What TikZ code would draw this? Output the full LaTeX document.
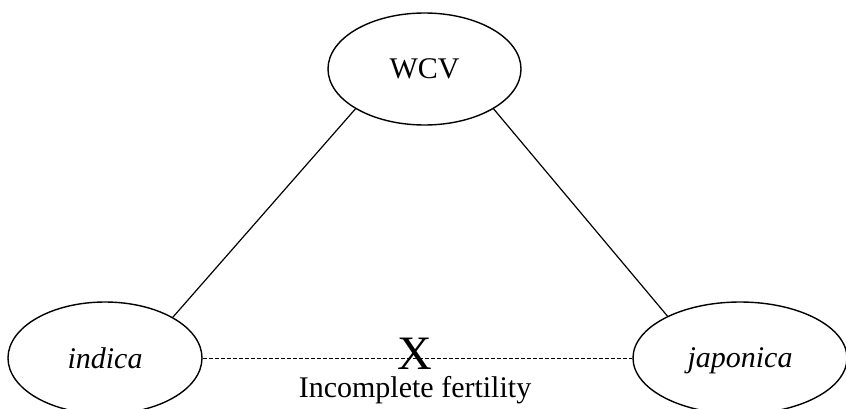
\documentclass[tikz,border=0pt]{standalone}
\usepackage{fontspec}
\setmainfont{Liberation Serif}
\usepackage{tikz}
\usetikzlibrary{shapes.geometric}

\begin{document}
\begin{tikzpicture}[x=1pt,y=1pt,font=\fontsize{30}{36}\selectfont,
  grp/.style={draw,ellipse,line width=1.4pt,inner sep=0pt,minimum height=112pt,text depth=0pt}]
\useasboundingbox (0,0) rectangle (846,408);
\node[grp,minimum width=193pt] (wcv) at (424.5,339) {WCV};
\node[grp,minimum width=194pt] (ind) at (105,50) {\textit{indica}};
\node[grp,minimum width=214pt] (jap) at (740,50) {\textit{japonica}};
\draw[line width=1.2pt] (wcv.210) -- (ind.31);
\draw[line width=1.2pt] (wcv.330) -- (jap.150);
\draw[dash pattern=on 4pt off 2pt,line width=1pt] (ind.east) --
  node[pos=0.493,yshift=4pt,inner sep=0pt,font=\fontsize{48}{56}\selectfont] (cross) {X} (jap.west);
\node[anchor=base] (fert) at (415,11) {Incomplete fertility};
\end{tikzpicture}
\end{document}
